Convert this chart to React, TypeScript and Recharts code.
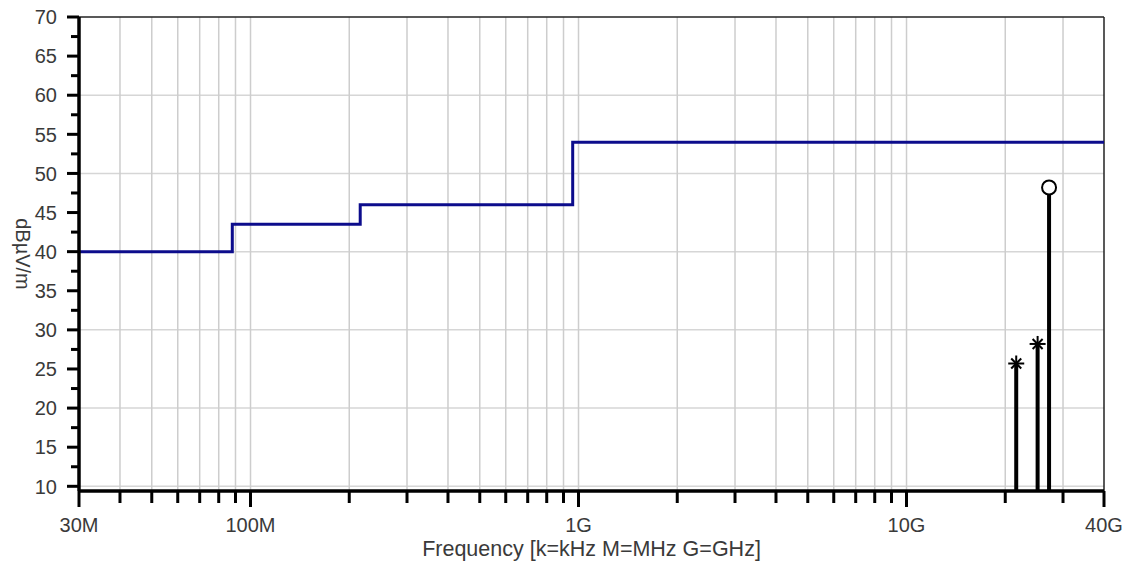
import { ComposedChart, Line, Scatter, XAxis, YAxis, ReferenceLine } from "recharts";

// FCC class B style limit line (step after each break frequency)
const limitFreqs = [30e6, 88e6, 216e6, 960e6, 40e9];
const limitLevels = [40, 43.5, 46, 54, 54];

// measured peaks
const peakFreqs = [21.6e9, 25.1e9, 27.2e9];
const peakLevels = [25.7, 28.2, 48.2];
const peakMarkers = ["star", "star", "circle"];

const xTicks = [
  30e6, 40e6, 50e6, 60e6, 70e6, 80e6, 90e6,
  100e6, 200e6, 300e6, 400e6, 500e6, 600e6, 700e6, 800e6, 900e6,
  1e9, 2e9, 3e9, 4e9, 5e9, 6e9, 7e9, 8e9, 9e9,
  10e9, 20e9, 30e9, 40e9,
];
const xMajor = [30e6, 100e6, 1e9, 10e9, 40e9];
const xLabels = ["30M", "100M", "1G", "10G", "40G"];

const yTicks = [
  10, 12.5, 15, 17.5, 20, 22.5, 25, 27.5, 30, 32.5, 35, 37.5, 40,
  42.5, 45, 47.5, 50, 52.5, 55, 57.5, 60, 62.5, 65, 67.5, 70,
];
const yGrid = [10, 20, 30, 40, 50, 60];
const xGrid = xTicks.filter((f) => f !== 30e6 && f !== 40e9);

const Y_MIN = 9.4;
const Y_MAX = 70;
const FONT = "'Liberation Sans', Arial, sans-serif";
const TEXT = "#3a3a3a";

const limitData = limitFreqs.map((f, i) => ({ f, v: limitLevels[i] }));
const peakData = peakFreqs.map((f, i) => ({ f, v: peakLevels[i], m: peakMarkers[i] }));

const XTick = (props: any) => {
  const { x, y, payload } = props;
  const i = xMajor.indexOf(payload.value);
  const major = i >= 0;
  return (
    <g>
      <line x1={x} x2={x} y1={y} y2={y + (major ? 16 : 12)} stroke="#000" strokeWidth={3} />
      {major && (
        <text x={x} y={y + 41} textAnchor="middle" fill={TEXT} fontSize={20} fontFamily={FONT}>
          {xLabels[i]}
        </text>
      )}
    </g>
  );
};

const YTick = (props: any) => {
  const { x, y, payload } = props;
  const major = payload.value % 5 === 0;
  return (
    <g>
      <line x1={x - (major ? 12 : 8)} x2={x} y1={y} y2={y} stroke="#000" strokeWidth={3} />
      {major && (
        <text x={x - 22} y={y} dy="0.36em" textAnchor="end" fill={TEXT} fontSize={20} fontFamily={FONT}>
          {payload.value}
        </text>
      )}
    </g>
  );
};

const PeakMark = (props: any) => {
  const { cx, cy, payload } = props;
  if (payload.m === "circle") {
    return <circle cx={cx} cy={cy} r={7} fill="#fff" stroke="#000" strokeWidth={2} />;
  }
  return (
    <g stroke="#000" strokeWidth={2}>
      <line x1={cx - 8} x2={cx + 8} y1={cy} y2={cy} />
      <line x1={cx} x2={cx} y1={cy - 8} y2={cy + 8} />
      <line x1={cx - 5} x2={cx + 5} y1={cy - 5} y2={cy + 5} />
      <line x1={cx - 5} x2={cx + 5} y1={cy + 5} y2={cy - 5} />
    </g>
  );
};

const YTitle = (props: any) => {
  const { viewBox } = props;
  const cy = viewBox.y + viewBox.height / 2;
  return (
    <text
      x={16}
      y={cy}
      transform={`rotate(90 16 ${cy})`}
      textAnchor="middle"
      fill={TEXT}
      fontSize={20}
      fontFamily={FONT}
    >
      dBµV/m
    </text>
  );
};

export default function App() {
  return (
    <div style={{ position: "absolute", left: 0, top: 0, background: "#fff" }}>
      <ComposedChart width={1127} height={567} margin={{ top: 17, right: 23, bottom: 0, left: 0 }}>
        {yGrid.map((v) => (
          <ReferenceLine key={"h" + v} y={v} stroke="#d6d6d6" strokeWidth={1.5} />
        ))}
        {xGrid.map((f) => (
          <ReferenceLine key={"v" + f} x={f} stroke="#cdcdcd" strokeWidth={1.5} />
        ))}
        <ReferenceLine y={Y_MAX} stroke="#222" strokeWidth={1.5} />
        <ReferenceLine x={40e9} stroke="#222" strokeWidth={1.5} />
        <XAxis
          dataKey="f"
          type="number"
          scale="log"
          domain={[30e6, 40e9]}
          allowDataOverflow
          ticks={xTicks}
          interval={0}
          tick={<XTick />}
          tickLine={false}
          tickSize={0}
          tickMargin={0}
          height={76}
          axisLine={{ stroke: "#000", strokeWidth: 3.5 }}
          label={{
            value: "Frequency [k=kHz M=MHz G=GHz]",
            position: "insideBottom",
            offset: 11,
            fill: TEXT,
            fontSize: 21.5,
            fontFamily: FONT,
          }}
        />
        <YAxis
          type="number"
          domain={[Y_MIN, Y_MAX]}
          allowDataOverflow
          ticks={yTicks}
          interval={0}
          tick={<YTick />}
          tickLine={false}
          tickSize={0}
          tickMargin={0}
          width={79}
          axisLine={{ stroke: "#000", strokeWidth: 3.5 }}
          label={{ content: <YTitle /> }}
        />
        <Line
          data={limitData}
          dataKey="v"
          type="stepAfter"
          stroke="#0c0c8c"
          strokeWidth={3}
          dot={false}
          isAnimationActive={false}
        />
        {peakData.map((p, i) => (
          <Line
            key={"stem" + i}
            data={[
              { f: p.f, v: Y_MIN },
              { f: p.f, v: p.v },
            ]}
            dataKey="v"
            stroke="#000"
            strokeWidth={4}
            dot={false}
            isAnimationActive={false}
          />
        ))}
        <Scatter data={peakData} dataKey="v" shape={<PeakMark />} isAnimationActive={false} />
      </ComposedChart>
    </div>
  );
}
